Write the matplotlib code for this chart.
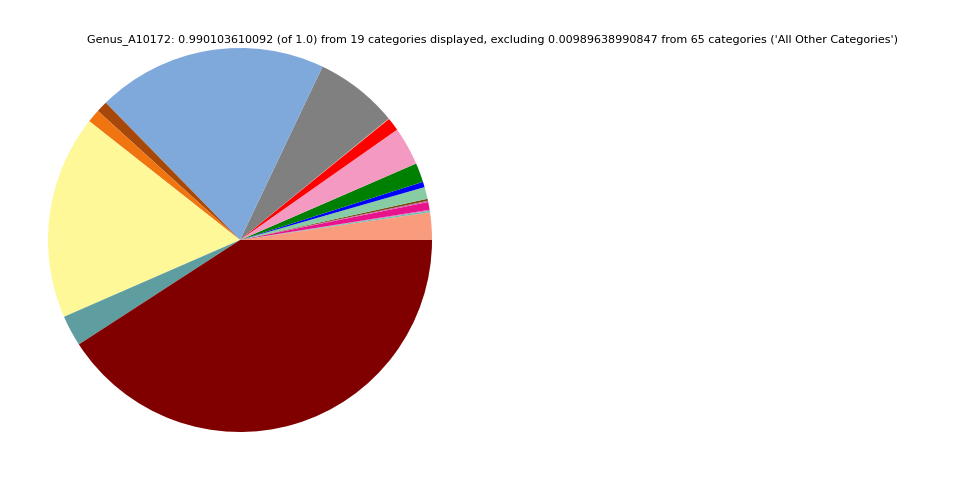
import matplotlib
matplotlib.use("Agg")
import matplotlib.pyplot as plt

title = ("Genus_A10172: 0.990103610092 (of 1.0) from 19 categories displayed, "
         "excluding 0.00989638990847 from 65 categories ('All Other Categories')")

categories = [f"Genus_{i}" for i in range(1, 20)]
values = [0.0228, 0.0012, 0.0008, 0.0065, 0.0010, 0.0017, 0.0098, 0.0045,
          0.0160, 0.0318, 0.0110, 0.0004, 0.0693, 0.1912, 0.0094, 0.0109,
          0.1693, 0.0257, 0.4028]
colors = ['#F99B7D', '#66C2A5', '#C77CC6', '#E7128C', '#D45FB0', '#7A4A12',
          '#88CCA4', '#0000FF', '#008000', '#F49AC2', '#FF0000', '#F4A582',
          '#808080', '#7FA9DA', '#A6480A', '#F07510', '#FFF899', '#5F9EA0',
          '#800000']

fig = plt.figure(figsize=(9.6, 4.8), dpi=100)
ax = fig.add_axes([0, 0, 0.5, 1])
ax.pie(values, colors=colors, startangle=0, counterclock=True)
ax.set_aspect('equal')
fig.text(0.513, 0.918, title, ha='center', va='center', fontsize=8)
fig.savefig("out.png", dpi=100)
